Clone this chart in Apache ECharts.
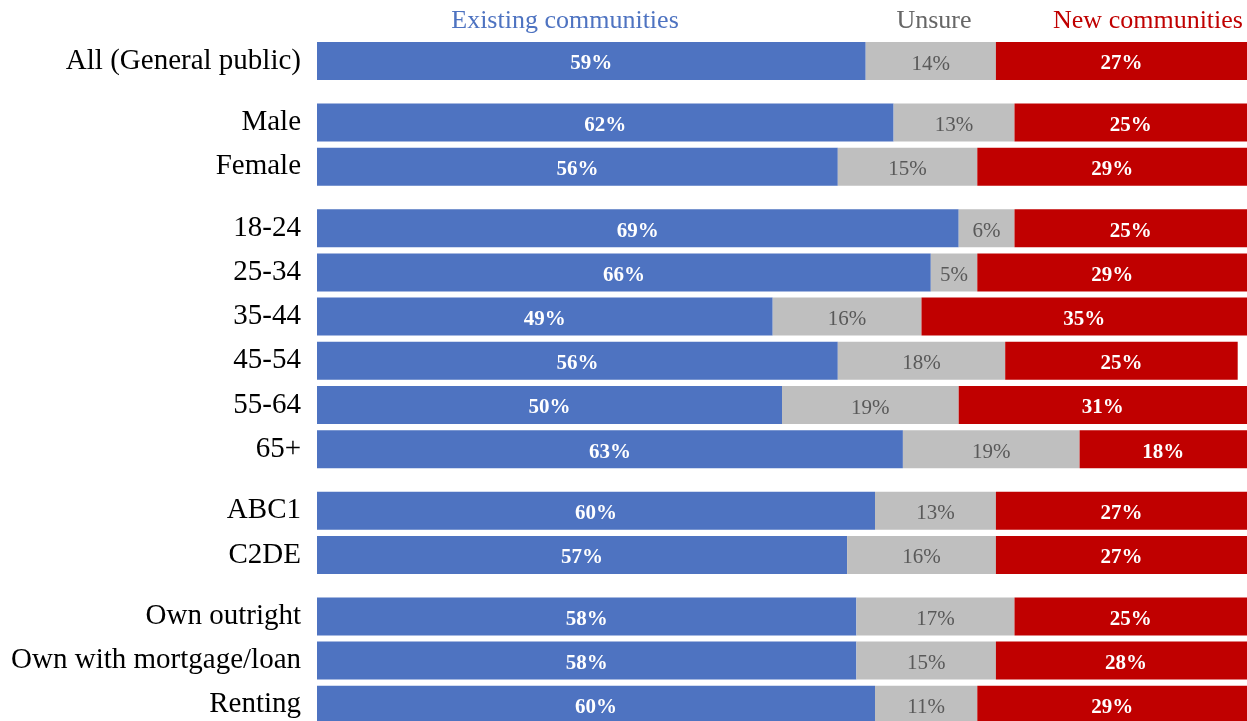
<!DOCTYPE html>
<html>
<head>
<meta charset="utf-8">
<script src="https://cdn.jsdelivr.net/npm/echarts@6/dist/echarts.min.js"></script>
<style>
  html, body { margin: 0; padding: 0; background: #fff; }
  #chart { width: 1247px; height: 721px; }
</style>
</head>
<body>
<div id="chart"></div>
<script>
// Survey breakdown: share preferring existing vs new communities, by demographic
const categories = ['All (General public)', 'Male', 'Female', '18-24', '25-34', '35-44', '45-54', '55-64', '65+', 'ABC1', 'C2DE', 'Own outright', 'Own with mortgage/loan', 'Renting'];
const existing = [59, 62, 56, 69, 66, 49, 56, 50, 63, 60, 57, 58, 58, 60];
const unsure   = [14, 13, 15, 6, 5, 16, 18, 19, 19, 13, 16, 17, 15, 11];
const newComm  = [27, 25, 29, 25, 29, 35, 25, 31, 18, 27, 27, 25, 28, 29];
const groupSizes = [1, 2, 6, 2, 3];
const seriesNames = ['Existing communities', 'Unsure', 'New communities'];

const COLORS = ['#4E73C1', '#BFBFBF', '#C00000'];
const LABEL_COLORS = ['#ffffff', '#595959', '#ffffff'];
const FONT = '"Liberation Serif", "DejaVu Serif", serif';

// layout of the stacked rows
const ROW = 44.2, GAP = 17.3, TOP = 38.9, LEFT = 317, WIDTH = 930;

const grids = [], xAxes = [], yAxes = [], series = [];
let start = 0;
groupSizes.forEach((n, g) => {
  const top = TOP + start * ROW + g * GAP;
  // the last block runs off the bottom edge: place its rows on tick points instead of bands
  const last = g === groupSizes.length - 1;
  grids.push(last
    ? { left: LEFT, width: WIDTH, top: top + ROW / 2, height: (n - 1) * ROW }
    : { left: LEFT, width: WIDTH, top: top, height: n * ROW });
  xAxes.push({ type: 'value', gridIndex: g, min: 0, max: 100, show: false });
  yAxes.push({
    type: 'category', gridIndex: g, inverse: true, boundaryGap: !last,
    data: categories.slice(start, start + n),
    axisLine: { show: false }, axisTick: { show: false },
    axisLabel: { color: '#000', fontFamily: FONT, fontSize: 29, margin: 16 }
  });
  [existing, unsure, newComm].forEach((arr, k) => {
    series.push({
      name: seriesNames[k], type: 'bar', stack: 'g' + g,
      xAxisIndex: g, yAxisIndex: g, barWidth: 38, clip: false,
      data: arr.slice(start, start + n),
      itemStyle: { color: COLORS[k] },
      label: {
        show: true, position: 'inside', formatter: '{c}%', offset: [0, 3],
        color: LABEL_COLORS[k], fontFamily: FONT, fontSize: 21,
        fontWeight: k === 1 ? 'normal' : 'bold'
      },
      emphasis: { disabled: true },
      animation: false
    });
  });
  start += n;
});

const chart = echarts.init(document.getElementById('chart'));
chart.setOption({
  backgroundColor: '#fff',
  animation: false,
  grid: grids, xAxis: xAxes, yAxis: yAxes, series: series,
  graphic: [
    { type: 'text', x: 565, y: 21, style: { text: 'Existing communities', fill: '#4E73C1', font: '26px ' + FONT, align: 'center', verticalAlign: 'middle' } },
    { type: 'text', x: 934, y: 21, style: { text: 'Unsure', fill: '#666666', font: '26px ' + FONT, align: 'center', verticalAlign: 'middle' } },
    { type: 'text', x: 1148, y: 21, style: { text: 'New communities', fill: '#C00000', font: '26px ' + FONT, align: 'center', verticalAlign: 'middle' } }
  ]
});
</script>
</body>
</html>
